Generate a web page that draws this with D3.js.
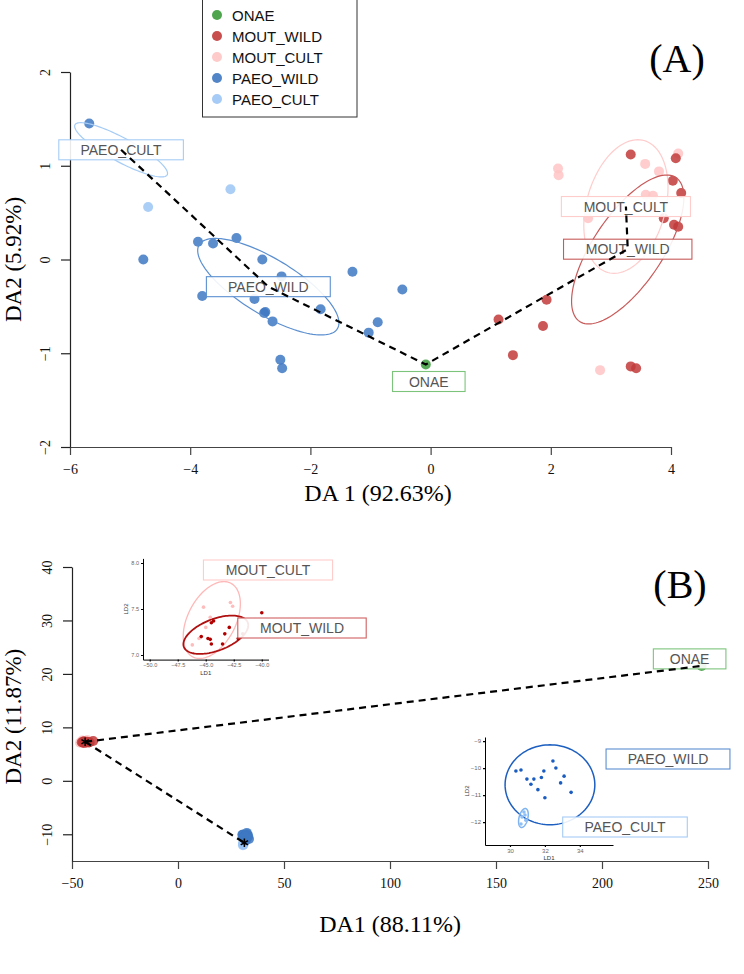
<!DOCTYPE html>
<html><head><meta charset="utf-8">
<script src="https://cdn.jsdelivr.net/npm/d3@7/dist/d3.min.js"></script>
<style>
body{margin:0;background:#fff;}
svg{display:block;}
</style></head><body>
<svg id="chart" width="744" height="974"></svg>
<script>
// ---------------- DATA ----------------
const groups = ["ONAE","MOUT_WILD","MOUT_CULT","PAEO_WILD","PAEO_CULT"];
const groupColors = ["#3b9b3b","#c23a3a","#ffc4c4","#3e78c2","#9cc5f5"];
const groupStroke = ["#7cc47c","#c85a5a","#ffcccc","#5b8fd0","#a6ccf6"];

// Panel A (DA1, DA2)
const aXTicks = [-6,-4,-2,0,2,4];
const aYTicks = [-2,-1,0,1,2];
const aOnaeX = [-0.08];
const aOnaeY = [-1.12];
const aMoutCultX = [3.57,4.12,3.80,3.58,3.70,2.12,2.13,2.62,2.82];
const aMoutCultY = [1.02,1.13,0.94,0.69,0.68,0.97,0.90,0.44,-1.18];
const aMoutWildX = [3.33,4.08,4.03,4.17,3.88,4.05,4.12,1.93,1.13,1.87,1.37,3.33,3.42];
const aMoutWildY = [1.12,1.08,0.84,0.71,0.44,0.37,0.35,-0.43,-0.64,-0.71,-1.02,-1.14,-1.16];
const aPaeoCultX = [-4.70,-3.33];
const aPaeoCultY = [0.56,0.75];
const aPaeoWildX = [-4.78,-3.87,-3.62,-3.23,-2.80,-2.48,-3.80,-2.93,-2.77,-2.75,-2.63,-1.83,-1.30,-0.47,-0.88,-1.03,-2.50,-2.47,-5.68];
const aPaeoWildY = [0.00,0.19,0.17,0.23,0.00,-0.18,-0.39,-0.42,-0.57,-0.56,-0.66,-0.53,-0.13,-0.32,-0.67,-0.78,-1.07,-1.16,1.45];
// group centroids (path order)
const aCentGroup = ["PAEO_CULT","PAEO_WILD","ONAE","MOUT_WILD","MOUT_CULT"];
const aCentX = [-5.15,-2.70,-0.08,3.28,3.25];
const aCentY = [1.17,-0.29,-1.12,0.11,0.565];
// confidence ellipses: centre + two conjugate half-axis vectors (data units)
const aEllGroup = ["PAEO_CULT","PAEO_WILD","MOUT_CULT","MOUT_WILD"];
const aEllCx = [-5.15,-2.70,3.25,3.28];
const aEllCy = [1.17,-0.29,0.565,0.107];
const aEllUx = [0.767,1.15,0.30,0.80];
const aEllUy = [-0.267,-0.448,0.704,0.768];
const aEllVx = [-0.095,-0.243,0.633,0.483];
const aEllVy = [-0.112,-0.254,-0.111,-0.203];

// Panel B (DA1, DA2) and insets (LD1, LD2)
const bXTicks = [-50,0,50,100,150,200,250];
const bYTicks = [-10,0,10,20,30,40];
const bOnaeX = [247];
const bOnaeY = [21.5];
const bMoutWildX = [-40.0,-44.3,-44.5,-42.9,-45.4,-44.8,-44.6,-43.3,-41.7,-42.1,-44.5,-43.5];
const bMoutWildY = [7.46,7.37,7.35,7.30,7.20,7.18,7.17,7.23,7.23,7.18,7.12,7.12];
const bMoutCultX = [-45.2,-42.8,-42.6,-44.6,-45.0,-46.2,-45.6];
const bMoutCultY = [7.52,7.57,7.53,7.41,7.30,7.11,7.18];
const bPaeoWildX = [30.34,30.63,30.97,31.37,31.94,32.46,32.63,33.10,31.60,32.00,33.50,31.20,32.90,31.80];
const bPaeoWildY = [-10.11,-10.07,-10.41,-10.41,-10.11,-9.74,-10.00,-10.30,-10.80,-11.10,-10.90,-10.60,-10.55,-10.35];
const bPaeoCultX = [30.80,30.69,30.91,30.63,30.86];
const bPaeoCultY = [-11.63,-11.81,-11.93,-12.07,-11.74];
const bCentGroup = ["ONAE","MOUT","PAEO"];
const bCentX = [247,-43.8,31.3];
const bCentY = [21.5,7.3,-11.6];
const i1XTicks = [-50,-47.5,-45,-42.5,-40];
const i1YTicks = [7.0,7.5,8.0];
const i2XTicks = [30,32,34];
const i2YTicks = [-12,-11,-10,-9];
const i1EllGroup = ["MOUT_CULT","MOUT_WILD"];
const i1EllCx = [-44.46,-44.1];
const i1EllCy = [7.38,7.22];
const i1EllUx = [1.7,2.86];
const i1EllUy = [0.40,0.13];
const i1EllVx = [1.9,-0.45];
const i1EllVy = [-0.12,0.163];
const i2EllGroup = ["PAEO_WILD","PAEO_CULT"];
const i2EllCx = [32.29,30.77];
const i2EllCy = [-10.62,-11.85];
const i2EllUx = [2.57,0.12];
const i2EllUy = [0.0,0.35];
const i2EllVx = [0.0,0.25];
const i2EllVy = [1.48,-0.02];

// ---------------- DRAWING ----------------
const SERIF = "'Liberation Serif','Times New Roman',serif";
const SANS = "'Liberation Sans',Arial,sans-serif";
const svg = d3.select("#chart");
svg.append("rect").attr("width",744).attr("height",974).attr("fill","#fff");
const fill = d3.scaleOrdinal(groups, groupColors);
const edge = d3.scaleOrdinal(groups, groupStroke);
const fmt = d => d < 0 ? "\u2212" + Math.abs(d) : String(d);
const zip = (xs, ys, g) => xs.map((x,i)=>({x, y: ys[i], g}));

function ellipsePath(sx, sy, cx, cy, ux, uy, vx, vy) {
  const pts = d3.range(0, 360, 3).map(a => {
    const t = a*Math.PI/180;
    return [sx(cx + ux*Math.cos(t) + vx*Math.sin(t)), sy(cy + uy*Math.cos(t) + vy*Math.sin(t))];
  });
  return d3.line()(pts) + "Z";
}
function styleAxis(g, fs, fam, col) {
  g.attr("font-family", fam).attr("font-size", fs);
  g.select(".domain").attr("stroke", col).attr("stroke-width", 1.2);
  g.selectAll(".tick line").attr("stroke", col).attr("stroke-width", 1.2);
  g.selectAll(".tick text").attr("fill", "#111");
}
function rotateYLabels(g, off) {
  g.selectAll(".tick text").attr("x",0).attr("dy",0).attr("text-anchor","middle")
   .attr("transform", `translate(${-off},0) rotate(-90)`);
}
function labelBox(g, cx, cy, text, stroke, fs, padMul, padAdd, h) {
  const lg = g.append("g");
  const r = lg.append("rect");
  const t = lg.append("text").attr("x", cx).attr("y", cy).attr("text-anchor","middle")
    .attr("dominant-baseline","central").attr("font-family", SANS).attr("font-size", fs)
    .attr("fill","#555").text(text);
  const w = t.node().getComputedTextLength()*padMul + padAdd;
  r.attr("x", cx - w/2).attr("y", cy - h/2).attr("width", w).attr("height", h)
   .attr("fill","#fff").attr("fill-opacity",0.9).attr("stroke", stroke).attr("stroke-width",1.1);
}

// ===== Panel A =====
const xA = d3.scaleLinear([-6,4],[70,671]);
const yA = d3.scaleLinear([-2,2],[447,72]);
const gA = svg.append("g");
gA.append("g").attr("transform",`translate(0,${yA(-2)})`)
  .call(d3.axisBottom(xA).tickValues(aXTicks).tickFormat(fmt).tickSize(8).tickSizeOuter(0).tickPadding(9))
  .call(g => styleAxis(g, 14, SERIF, "#444"));
gA.append("g").attr("transform",`translate(${xA(-6)},0)`)
  .call(d3.axisLeft(yA).tickValues(aYTicks).tickFormat(fmt).tickSize(9).tickSizeOuter(0))
  .call(g => { styleAxis(g, 14, SERIF, "#222"); rotateYLabels(g, 20); });
gA.append("text").attr("x", 378).attr("y", 501).attr("text-anchor","middle")
  .attr("font-family", SERIF).attr("font-size", 24).text("DA 1 (92.63%)");
gA.append("text").attr("transform", `translate(21,${yA(0)}) rotate(-90)`).attr("text-anchor","middle")
  .attr("font-family", SERIF).attr("font-size", 23).text("DA2 (5.92%)");
gA.append("text").attr("x", 677).attr("y", 72).attr("text-anchor","middle")
  .attr("font-family", SERIF).attr("font-size", 40).text("(A)");

const aPts = [].concat(
  zip(aPaeoCultX, aPaeoCultY, "PAEO_CULT"),
  zip(aPaeoWildX, aPaeoWildY, "PAEO_WILD"),
  zip(aMoutCultX, aMoutCultY, "MOUT_CULT"),
  zip(aMoutWildX, aMoutWildY, "MOUT_WILD"),
  zip(aOnaeX, aOnaeY, "ONAE"));
gA.append("g").selectAll("circle").data(aPts).join("circle")
  .attr("cx", d => xA(d.x)).attr("cy", d => yA(d.y)).attr("r", 5)
  .attr("fill", d => fill(d.g)).attr("fill-opacity", 0.85);
gA.append("g").selectAll("path").data(aEllGroup).join("path")
  .attr("d", (g,i) => ellipsePath(xA, yA, aEllCx[i], aEllCy[i], aEllUx[i], aEllUy[i], aEllVx[i], aEllVy[i]))
  .attr("fill","none").attr("stroke", g => edge(g)).attr("stroke-width", 1.2);
const gLabA = gA.append("g");
aCentGroup.forEach((g,i) => {
  const dy = g === "ONAE" ? 17 : 0;
  labelBox(gLabA, xA(aCentX[i]) + (g==="ONAE"?3:0), yA(aCentY[i]) + dy, g, edge(g), 14,
    g === "ONAE" ? 1.4 : 1.35, g === "ONAE" ? 17 : 15, 20);
});
gA.append("path").attr("d", d3.line()(aCentX.map((x,i)=>[xA(x), yA(aCentY[i])])))
  .attr("fill","none").attr("stroke","#000").attr("stroke-width",2.2).attr("stroke-dasharray","7,5");

// legend
const leg = svg.append("g");
leg.append("rect").attr("x",202.5).attr("y",-1).attr("width",154.5).attr("height",118)
  .attr("fill","#fff").attr("stroke","#333").attr("stroke-width",1);
groups.forEach((g,i) => {
  const y = 15 + i*21;
  leg.append("circle").attr("cx",217).attr("cy",y).attr("r",5).attr("fill",fill(g)).attr("fill-opacity",0.9);
  leg.append("text").attr("x",232).attr("y",y).attr("dominant-baseline","central")
    .attr("font-family",SANS).attr("font-size",15).attr("fill","#111").text(g);
});

// ===== Panel B =====
const xB = d3.scaleLinear([-50,250],[72,708]);
const yB = d3.scaleLinear([-15,40],[861,567]);
const gB = svg.append("g");
gB.append("g").attr("transform",`translate(0,${yB(-15)})`)
  .call(d3.axisBottom(xB).tickValues(bXTicks).tickFormat(fmt).tickSize(8).tickSizeOuter(0).tickPadding(9))
  .call(g => styleAxis(g, 14, SERIF, "#444"));
gB.append("g").attr("transform",`translate(${xB(-50)},0)`)
  .call(d3.axisLeft(yB).tickValues(bYTicks).tickFormat(fmt).tickSize(9).tickSizeOuter(0))
  .call(g => { styleAxis(g, 14, SERIF, "#222"); rotateYLabels(g, 20); });
gB.append("text").attr("x", 390).attr("y", 932).attr("text-anchor","middle")
  .attr("font-family", SERIF).attr("font-size", 24).text("DA1 (88.11%)");
gB.append("text").attr("transform", `translate(21,${yB(12)}) rotate(-90)`).attr("text-anchor","middle")
  .attr("font-family", SERIF).attr("font-size", 23).text("DA2 (11.87%)");
gB.append("text").attr("x", 680).attr("y", 598).attr("text-anchor","middle")
  .attr("font-family", SERIF).attr("font-size", 40).text("(B)");

const bPts = [].concat(
  zip(bMoutCultX, bMoutCultY, "MOUT_CULT"),
  zip(bMoutWildX, bMoutWildY, "MOUT_WILD"),
  zip(bPaeoCultX, bPaeoCultY, "PAEO_CULT"),
  zip(bPaeoWildX, bPaeoWildY, "PAEO_WILD"),
  zip(bOnaeX, bOnaeY, "ONAE"));
gB.append("g").selectAll("circle").data(bPts).join("circle")
  .attr("cx", d => xB(d.x)).attr("cy", d => yB(d.y)).attr("r", 5)
  .attr("fill", d => fill(d.g)).attr("fill-opacity", 0.85);
labelBox(gB, xB(bOnaeX[0]) - 12, yB(bOnaeY[0]) - 7, "ONAE", edge("ONAE"), 14, 1.4, 17, 20);
const bSegs = [[1,0],[1,2]];
gB.append("g").selectAll("path").data(bSegs).join("path")
  .attr("d", s => d3.line()(s.map(k => [xB(bCentX[k]), yB(bCentY[k])])))
  .attr("fill","none").attr("stroke","#000").attr("stroke-width",2.2).attr("stroke-dasharray","7,5");
gB.append("g").selectAll("path").data(bCentGroup.slice(1)).join("path")
  .attr("transform", (g,i) => `translate(${xB(bCentX[i+1])},${yB(bCentY[i+1])})`)
  .attr("d", d3.symbol(d3.symbolAsterisk, 50)).attr("fill","none").attr("stroke","#000").attr("stroke-width",1.5);

// Inset 1 (MOUT)
const xI1 = d3.scaleLinear([-50.6,-39.4],[143,268.5]);
const yI1 = d3.scaleLinear([6.95,8.05],[659.6,558.4]);
const gI1 = svg.append("g");
gI1.append("g").attr("transform",`translate(0,${yI1(6.95)})`)
  .call(d3.axisBottom(xI1).tickValues(i1XTicks).tickFormat(d3.format(".1f")).tickSize(2).tickSizeOuter(0).tickPadding(2))
  .call(g => { styleAxis(g, 5.5, SANS, "#000"); g.select(".domain").attr("stroke-width",1); g.selectAll(".tick text").attr("fill","#666"); });
gI1.append("g").attr("transform",`translate(${xI1(-50.6)},0)`)
  .call(d3.axisLeft(yI1).tickValues(i1YTicks).tickFormat(d3.format(".1f")).tickSize(2).tickSizeOuter(0).tickPadding(2))
  .call(g => { styleAxis(g, 5.5, SANS, "#000"); g.select(".domain").attr("stroke-width",1); g.selectAll(".tick text").attr("fill","#666"); });
gI1.append("text").attr("x",(xI1(-50.6)+xI1(-39.4))/2).attr("y",yI1(6.95)+15).attr("text-anchor","middle")
  .attr("font-family",SANS).attr("font-size",6).attr("fill","#333").text("LD1");
gI1.append("text").attr("transform",`translate(${xI1(-50.6)-15},${yI1(7.5)}) rotate(-90)`).attr("text-anchor","middle")
  .attr("font-family",SANS).attr("font-size",6).attr("fill","#333").text("LD2");
gI1.append("g").selectAll("path").data(i1EllGroup).join("path")
  .attr("d", (g,i) => ellipsePath(xI1, yI1, i1EllCx[i], i1EllCy[i], i1EllUx[i], i1EllUy[i], i1EllVx[i], i1EllVy[i]))
  .attr("fill","none").attr("stroke", g => g==="MOUT_WILD" ? "#b01010" : "#ffb8b8").attr("stroke-width", g => g==="MOUT_WILD" ? 1.8 : 1.3);
gI1.append("g").selectAll("circle").data([].concat(zip(bMoutCultX,bMoutCultY,"MOUT_CULT"), zip(bMoutWildX,bMoutWildY,"MOUT_WILD"))).join("circle")
  .attr("cx", d => xI1(d.x)).attr("cy", d => yI1(d.y)).attr("r", 1.8)
  .attr("fill", d => d.g==="MOUT_WILD" ? "#b00000" : "#ffbcbc");
labelBox(gI1, 268, 570, "MOUT_CULT", "#ffcccc", 14, 1.35, 15, 20);
labelBox(gI1, 302, 628, "MOUT_WILD", "#d06060", 14, 1.35, 15, 20);

// Inset 2 (PAEO)
const xI2 = d3.scaleLinear([28.57,35.9],[485,613]);
const yI2 = d3.scaleLinear([-12.85,-8.85],[845,737]);
const gI2 = svg.append("g");
gI2.append("g").attr("transform",`translate(0,${yI2(-12.85)})`)
  .call(d3.axisBottom(xI2).tickValues(i2XTicks).tickSize(2).tickSizeOuter(0).tickPadding(2))
  .call(g => { styleAxis(g, 6, SANS, "#000"); g.select(".domain").attr("stroke-width",1); g.selectAll(".tick text").attr("fill","#666"); });
gI2.append("g").attr("transform",`translate(${xI2(28.57)},0)`)
  .call(d3.axisLeft(yI2).tickValues(i2YTicks).tickFormat(fmt).tickSize(2).tickSizeOuter(0).tickPadding(2))
  .call(g => { styleAxis(g, 6, SANS, "#000"); g.select(".domain").attr("stroke-width",1); g.selectAll(".tick text").attr("fill","#666"); });
gI2.append("text").attr("x",(xI2(28.57)+xI2(35.9))/2).attr("y",yI2(-12.85)+15).attr("text-anchor","middle")
  .attr("font-family",SANS).attr("font-size",6).attr("fill","#333").text("LD1");
gI2.append("text").attr("transform",`translate(${xI2(28.57)-16},${yI2(-10.85)}) rotate(-90)`).attr("text-anchor","middle")
  .attr("font-family",SANS).attr("font-size",6).attr("fill","#333").text("LD2");
gI2.append("g").selectAll("path").data(i2EllGroup).join("path")
  .attr("d", (g,i) => ellipsePath(xI2, yI2, i2EllCx[i], i2EllCy[i], i2EllUx[i], i2EllUy[i], i2EllVx[i], i2EllVy[i]))
  .attr("fill","none").attr("stroke", g => g==="PAEO_WILD" ? "#1d5fc0" : "#7fb4f0").attr("stroke-width", 1.5);
gI2.append("g").selectAll("circle").data([].concat(zip(bPaeoCultX,bPaeoCultY,"PAEO_CULT"), zip(bPaeoWildX,bPaeoWildY,"PAEO_WILD"))).join("circle")
  .attr("cx", d => xI2(d.x)).attr("cy", d => yI2(d.y)).attr("r", 1.8)
  .attr("fill", d => d.g==="PAEO_WILD" ? "#1a5cbf" : "#8ec0f5");
labelBox(gI2, 668, 759, "PAEO_WILD", "#5b8fd0", 14, 1.35, 15, 20);
labelBox(gI2, 625, 827, "PAEO_CULT", "#a6ccf6", 14, 1.35, 15, 20);
</script>
</body></html>
